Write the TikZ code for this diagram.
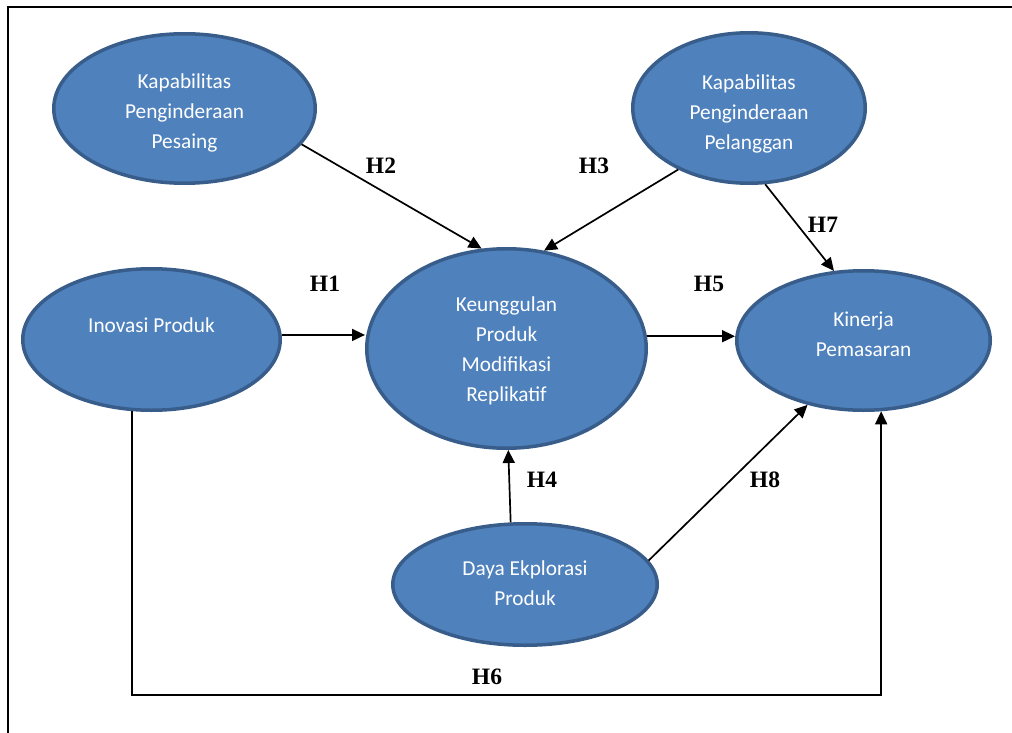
\documentclass[tikz,border=0pt]{standalone}
\usepackage{fontspec}
\setmainfont{Carlito}
\newfontfamily\hfont{Liberation Serif}
\usetikzlibrary{shapes.geometric,arrows.meta,calc}
\definecolor{efill}{HTML}{4F81BD}
\definecolor{eline}{HTML}{385D8A}
\begin{document}
\begin{tikzpicture}[x=1pt,y=-1pt,
  oval/.style={ellipse,draw=eline,fill=efill,line width=3.5pt,inner sep=0pt},
  otext/.style={text=white,align=center,font=\fontsize{21.3}{30}\selectfont},
  hlab/.style={font=\hfont\bfseries\fontsize{23.5}{26}\selectfont,text=black},
  arr/.style={draw=black,line width=1.7pt,-{Triangle[length=13pt,width=12pt]}}]
\useasboundingbox (0,0) rectangle (1012,733);
\draw[line width=2pt] (7.5,733) -- (7.5,7.5) -- (1012,7.5);

% ellipses
\node[oval,minimum width=261.5pt,minimum height=149.5pt] (pes) at (184.5,108.5) {};
\node[oval,minimum width=232.5pt,minimum height=150.5pt] (pel) at (749,108) {};
\node[oval,minimum width=257.5pt,minimum height=141.5pt] (ino) at (151.5,339.5) {};
\node[oval,minimum width=279.5pt,minimum height=199.5pt] (keu) at (506.5,348.5) {};
\node[oval,minimum width=253.5pt,minimum height=139.5pt] (kin) at (863.5,340.5) {};
\node[oval,minimum width=264.5pt,minimum height=121.5pt] (day) at (525,584.5) {};

% texts
\node[otext] (tpes) at (184.5,113) {Kapabilitas\\Penginderaan\\Pesaing};
\node[otext] (tpel) at (749,113.5) {Kapabilitas\\Penginderaan\\Pelanggan};
\node[otext] (tino) at (151.5,325) {Inovasi Produk};
\node[otext] (tkeu) at (506.5,351) {Keunggulan\\Produk\\Modifikasi\\Replikatif};
\node[otext] (tkin) at (863.5,334) {Kinerja\\Pemasaran};
\node[otext] (tday) at (525,583.5) {Daya Ekplorasi\\Produk};

% connectors
\draw[arr] (pes.-17.3) -- (keu.104.8);
\draw[arr] (pel.221) -- (keu.69.2);
\draw[arr] (pel.-78) -- (kin.113.4);
\draw[arr] (ino.2) -- (keu.west |- ino.2);
\draw[arr] (keu.5.6) -- (kin.west |- keu.5.6);
\draw[arr] (day.103) -- (keu.-89);
\draw[arr] (day.11) -- (kin.229.5);
\coordinate (h6y) at (0,695);
\draw[arr] (ino.255.2) -- (ino.255.2 |- h6y) -| (kin.-76.6);

% labels
\node[hlab] (h1) at (325,284) {H1};
\node[hlab] (h2) at (381,166) {H2};
\node[hlab] (h3) at (594,166) {H3};
\node[hlab] (h4) at (542,480) {H4};
\node[hlab] (h5) at (709,284) {H5};
\node[hlab] (h6) at (487,677) {H6};
\node[hlab] (h7) at (823,225) {H7};
\node[hlab] (h8) at (765,480) {H8};
\end{tikzpicture}
\end{document}
